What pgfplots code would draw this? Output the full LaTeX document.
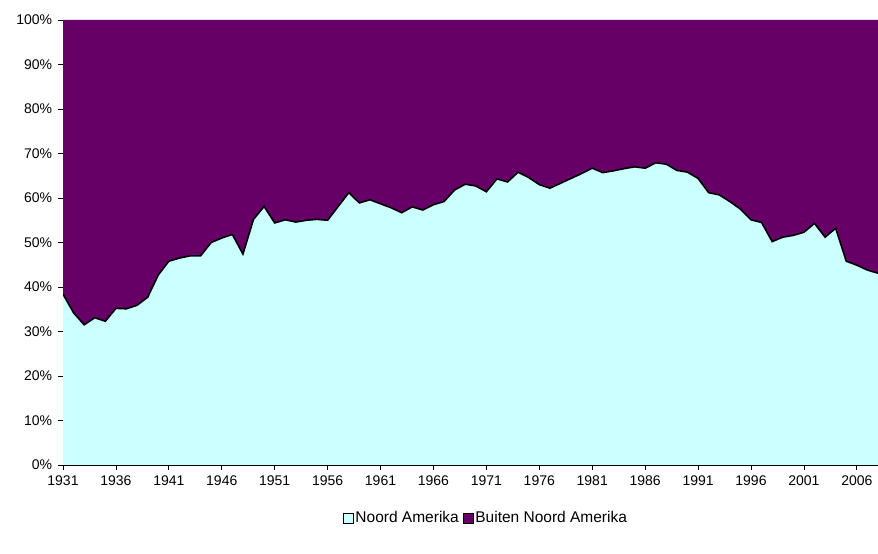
\documentclass[border=0pt]{standalone}
\usepackage{fontspec}
\setmainfont{Liberation Sans}
\usepackage{pgfplots}
\pgfplotsset{compat=1.18}
\usepackage{pgfplotstable}
\definecolor{na}{HTML}{CCFFFF}
\definecolor{bna}{HTML}{660066}

\pgfplotstableread{
year NA BNA
1931 38.4 61.6
1932 34.2 65.8
1933 31.5 68.5
1934 33.1 66.9
1935 32.3 67.7
1936 35.2 64.8
1937 35.1 64.9
1938 35.9 64.1
1939 37.7 62.3
1940 42.7 57.3
1941 45.8 54.2
1942 46.5 53.5
1943 47.0 53.0
1944 47.0 53.0
1945 50.0 50.0
1946 51.0 49.0
1947 51.8 48.2
1948 47.4 52.6
1949 55.2 44.8
1950 58.1 41.9
1951 54.4 45.6
1952 55.1 44.9
1953 54.6 45.4
1954 55.0 45.0
1955 55.2 44.8
1956 55.0 45.0
1957 58.1 41.9
1958 61.2 38.8
1959 58.9 41.1
1960 59.6 40.4
1961 58.7 41.3
1962 57.8 42.2
1963 56.7 43.3
1964 58.0 42.0
1965 57.3 42.7
1966 58.5 41.5
1967 59.2 40.8
1968 61.8 38.2
1969 63.1 36.9
1970 62.7 37.3
1971 61.4 38.6
1972 64.3 35.7
1973 63.6 36.4
1974 65.8 34.2
1975 64.6 35.4
1976 63.0 37.0
1977 62.2 37.8
1978 63.3 36.7
1979 64.4 35.6
1980 65.5 34.5
1981 66.7 33.3
1982 65.7 34.3
1983 66.1 33.9
1984 66.6 33.4
1985 67.0 33.0
1986 66.7 33.3
1987 67.9 32.1
1988 67.6 32.4
1989 66.2 33.8
1990 65.8 34.2
1991 64.4 35.6
1992 61.2 38.8
1993 60.7 39.3
1994 59.2 40.8
1995 57.5 42.5
1996 55.1 44.9
1997 54.5 45.5
1998 50.2 49.8
1999 51.2 48.8
2000 51.6 48.4
2001 52.3 47.7
2002 54.3 45.7
2003 51.2 48.8
2004 53.2 46.8
2005 45.8 54.2
2006 44.9 55.1
2007 43.8 56.2
2008 43.1 56.9
}\data

\begin{document}
\fontsize{14bp}{16bp}\selectfont
\begin{tikzpicture}
\useasboundingbox (0,0) rectangle (878bp,554bp);
\pgfplotsset{
  common/.style={
    at={(63bp,89bp)}, anchor=south west,
    width=815bp, height=445bp, scale only axis,
    xmin=1931, xmax=2008, ymin=0, ymax=100,
  }
}
\begin{axis}[
  common,
  stack plots=y,
  axis x line*=bottom, axis y line*=left,
  axis line style={black, line width=1pt},
  xtick={1931,1936,...,2006},
  ytick={0,10,...,100},
  x tick label style={/pgf/number format/1000 sep={}, yshift=-1bp},
  yticklabel={\pgfmathprintnumber{\tick}\%},
  y tick label style={xshift=-1bp},
  tick align=outside, major tick length=5bp,
  tick style={black, line width=0.8pt},
  /pgf/number format/assume math mode=true,
  tick label style={font=\fontsize{14bp}{16bp}\selectfont},
  legend style={at={(0.519,-0.119)}, anchor=center, draw=none, fill=none,
    legend columns=2, font=\fontsize{15.5bp}{17bp}\selectfont,
    /tikz/every even column/.append style={column sep=3bp},
    inner sep=0pt, nodes={inner xsep=1.5bp}},
  legend image code/.code={\draw[#1, draw=black, line width=0.5pt] (0bp,-5bp) rectangle (10bp,5bp);},
]
\addplot[fill=na, draw=none] table[x=year,y=NA] {\data} \closedcycle;
\addlegendentry{Noord Amerika}
\addplot[fill=bna, draw=none] table[x=year,y=BNA] {\data} \closedcycle;
\addlegendentry{Buiten Noord Amerika}
\end{axis}
\begin{axis}[
  common, hide axis,
]
\addplot[black, line width=1.6bp] table[x=year,y=NA] {\data};
\end{axis}
\end{tikzpicture}
\end{document}
